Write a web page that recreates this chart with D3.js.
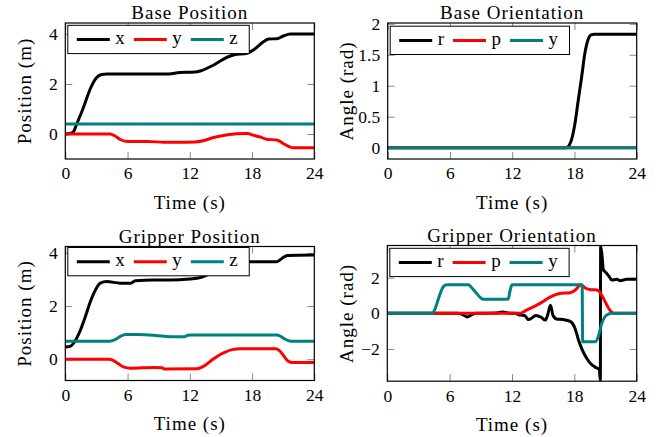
<!DOCTYPE html>
<html><head><meta charset="utf-8">
<script src="https://cdn.jsdelivr.net/npm/d3@7"></script>
<style>
html,body{margin:0;padding:0;background:#fff;}
svg{display:block;}
.lbl{font-family:"Liberation Serif",serif;font-size:19px;letter-spacing:1px;fill:#000;}
.tick text{font-family:"Liberation Serif",serif;font-size:17.5px;fill:#000;}
</style></head><body>
<svg id="chart" width="672" height="437"></svg>
<script>
// ---------- data ([time s, value]) ----------
const timeTicks = [0, 6, 12, 18, 24];
const posTicks = [0, 2, 4];
const baseOriTicks = [0, 0.5, 1, 1.5, 2];
const gripOriTicks = [-2, 0, 2];
const posNames = ["x", "y", "z"];
const oriNames = ["r", "p", "y"];

const basePosX = [[0,0],[0.5,0.02],[0.8,0.1],[1.1,0.4],[1.5,0.8],[1.8,1.12],[2.4,1.8],[3,2.25],[3.5,2.38],[4,2.4],[10,2.4],[11,2.46],[12.5,2.48],[13,2.52],[14.3,2.76],[15.6,3.07],[16.3,3.17],[17.5,3.23],[18.2,3.38],[19.1,3.69],[19.6,3.8],[20.4,3.81],[21,3.92],[21.7,4.0],[24,4.0]];
const basePosY = [[0,0],[4.3,0],[4.8,-0.08],[5.3,-0.22],[5.8,-0.29],[6.5,-0.3],[8,-0.3],[9.5,-0.33],[11,-0.33],[12.5,-0.32],[13.3,-0.27],[14.3,-0.14],[15.5,-0.04],[16.5,0.01],[17.5,0.02],[18.3,-0.07],[18.8,-0.12],[19.4,-0.21],[20.4,-0.24],[21,-0.38],[21.6,-0.51],[22,-0.55],[24,-0.55]];
const basePosZ = [[0,0.4],[24,0.4]];

const baseOriR = [[0,0],[17.2,0],[17.5,0.04],[17.8,0.18],[18.05,0.39],[18.37,0.77],[18.7,1.15],[19,1.52],[19.3,1.74],[19.6,1.82],[19.9,1.83],[24,1.83]];
const baseOriP = [[0,0],[24,0]];
const baseOriY = [[0,0],[24,0]];

const gripPosX = [[0,0.46],[0.5,0.49],[1,0.72],[1.45,1.09],[1.93,1.6],[2.41,2.16],[2.9,2.6],[3.37,2.86],[4,2.92],[5.3,2.86],[6.3,2.86],[6.75,2.95],[8.5,2.98],[10.1,2.98],[12,3.02],[13,3.07],[14,3.23],[15,3.45],[16,3.6],[17,3.66],[17.5,3.67],[20.4,3.67],[20.9,3.8],[21.4,3.9],[24,3.92]];
const gripPosY = [[0,0],[4.2,0],[4.6,-0.04],[5,-0.14],[5.6,-0.29],[6.3,-0.34],[8.5,-0.31],[9.3,-0.32],[9.6,-0.37],[12.7,-0.36],[13.3,-0.27],[14.3,0.02],[15.3,0.25],[16.2,0.37],[16.8,0.39],[20.3,0.39],[20.7,0.3],[21.04,0.13],[21.5,-0.08],[21.8,-0.12],[24,-0.12]];
const gripPosZ = [[0,0.68],[4.3,0.68],[4.8,0.74],[5.3,0.86],[5.8,0.93],[7,0.93],[8.5,0.9],[9.5,0.86],[10.1,0.85],[11.5,0.85],[11.8,0.9],[12.2,0.91],[20.4,0.91],[20.8,0.85],[21.2,0.75],[21.7,0.68],[24,0.68]];

const gripOriR = [[0,0],[6.8,0],[7.3,-0.08],[7.7,-0.2],[8.1,-0.08],[8.5,0],[10.5,0.02],[11.1,0.08],[11.6,0.02],[12.3,0],[12.8,-0.1],[13.2,-0.12],[13.6,-0.35],[14.3,-0.12],[14.8,-0.22],[15.2,-0.38],[15.45,-0.05],[15.7,0.45],[15.95,-0.12],[16.3,-0.32],[16.9,-0.35],[17.6,-0.45],[18.05,-0.82],[18.4,-1.5],[18.7,-1.97],[19.0,-2.34],[19.3,-2.62],[19.6,-2.85],[20.1,-3.05],[20.4,-3.15],[20.5,-3.75],[20.53,3.75],[20.64,3.37],[20.8,2.43],[20.96,2.34],[21.1,2.25],[21.3,2.1],[21.4,2.02],[21.6,1.87],[22.1,1.91],[22.4,1.83],[23.05,1.91],[24,1.91]];
const gripOriP = [[0,0],[12.8,0],[13.3,0.15],[14,0.35],[14.7,0.56],[15.7,0.93],[16.6,1.12],[17.6,1.16],[18.1,1.31],[18.6,1.59],[18.8,1.55],[19.1,1.4],[19.6,1.33],[20.2,1.31],[20.5,1.15],[20.8,0.84],[21.1,0.5],[21.4,0.19],[21.8,0],[24,0]];
const gripOriY = [[0,0],[4.3,0],[4.6,0.25],[4.93,0.84],[5.4,1.5],[5.74,1.6],[7.8,1.6],[8.1,1.45],[8.46,1.21],[8.94,0.9],[9.26,0.79],[11.62,0.79],[11.83,1.31],[12.0,1.6],[18.75,1.6],[18.8,-1.6],[20.0,-1.6],[20.3,-1.31],[20.64,-0.56],[21.1,-0.1],[21.6,0],[24,0]];

// ---------- styles / layout ----------
const colors = ["#000000", "#ff0000", "#008080"];
const panels = [
  {title:"Base Position", ylabel:"Position (m)", names:posNames, series:[basePosX,basePosY,basePosZ], yTicks:posTicks, yDomain:[-1.0,4.44], l:65.3, r:314.3, t:23, b:159, legOff:2.3},
  {title:"Base Orientation", ylabel:"Angle (rad)", names:oriNames, series:[baseOriR,baseOriP,baseOriY], yTicks:baseOriTicks, yDomain:[-0.183,2.013], l:387.7, r:636.7, t:23, b:159, legOff:3.2},
  {title:"Gripper Position", ylabel:"Position (m)", names:posNames, series:[gripPosX,gripPosY,gripPosZ], yTicks:posTicks, yDomain:[-0.8,4.24], l:65.3, r:314.3, t:246.5, b:380.5, legOff:1},
  {title:"Gripper Orientation", ylabel:"Angle (rad)", names:oriNames, series:[gripOriR,gripOriP,gripOriY], yTicks:gripOriTicks, yDomain:[-3.81,3.81], l:387.3, r:636.7, t:245.5, b:381.2, legOff:2.8}
];

const svg = d3.select("#chart");
const fmt = d => String(d).replace("-", "\u2212");

panels.forEach((p, i) => {
  const x = d3.scaleLinear().domain([0, 24]).range([p.l, p.r]);
  const y = d3.scaleLinear().domain(p.yDomain).range([p.b, p.t]);
  const g = svg.append("g");

  const styleAxis = sel => {
    sel.select(".domain").remove();
    sel.selectAll(".tick line").attr("stroke", "#8a8a8a").attr("stroke-width", 1);
  };
  g.append("g").attr("transform", `translate(0,${p.b})`)
    .call(d3.axisBottom(x).tickValues(timeTicks).tickSize(-7).tickPadding(8).tickFormat(fmt)).call(styleAxis);
  g.append("g").attr("transform", `translate(0,${p.t})`)
    .call(d3.axisTop(x).tickValues(timeTicks).tickSize(-7).tickFormat(() => "")).call(styleAxis);
  g.append("g").attr("transform", `translate(${p.l},0)`)
    .call(d3.axisLeft(y).tickValues(p.yTicks).tickSize(-7).tickPadding(7.5).tickFormat(fmt)).call(styleAxis);
  g.append("g").attr("transform", `translate(${p.r},0)`)
    .call(d3.axisRight(y).tickValues(p.yTicks).tickSize(-7).tickFormat(() => "")).call(styleAxis);
  g.selectAll(".tick text").attr("font-family", null).attr("font-size", null);

  const cid = "clip" + i;
  svg.append("clipPath").attr("id", cid).append("rect")
    .attr("x", p.l).attr("y", p.t).attr("width", p.r - p.l).attr("height", p.b - p.t);

  const line = d3.line().x(d => x(d[0])).y(d => y(d[1])).curve(d3.curveMonotoneX);
  const lg = g.append("g").attr("clip-path", `url(#${cid})`);
  p.series.forEach((s, k) => {
    lg.append("path").attr("d", line(s)).attr("fill", "none")
      .attr("stroke", colors[k]).attr("stroke-width", 3)
      .attr("stroke-linejoin", "round");
  });

  g.append("rect").attr("x", p.l).attr("y", p.t).attr("width", p.r - p.l).attr("height", p.b - p.t)
    .attr("fill", "none").attr("stroke", "#000").attr("stroke-width", 1.2);

  // title and labels
  g.append("text").attr("class", "lbl").attr("x", (p.l + p.r) / 2).attr("y", p.t - 4)
    .attr("text-anchor", "middle").text(p.title);
  g.append("text").attr("class", "lbl").attr("x", (p.l + p.r) / 2).attr("y", p.b + 49.5)
    .attr("text-anchor", "middle").text("Time (s)");
  g.append("text").attr("class", "lbl")
    .attr("transform", `translate(${p.l - 34.5},${(p.t + p.b) / 2}) rotate(-90)`)
    .attr("text-anchor", "middle").text(p.ylabel);

  // legend
  const bx = p.l + 2.5, by = p.t + p.legOff;
  const leg = g.append("g");
  const box = leg.append("rect").attr("x", bx).attr("y", by).attr("height", 28.3)
    .attr("fill", "#fff").attr("stroke", "#000").attr("stroke-width", 1);
  let cx = bx + 9;
  p.names.forEach((n, k) => {
    leg.append("line").attr("x1", cx).attr("x2", cx + 33).attr("y1", by + 14.3).attr("y2", by + 14.3)
      .attr("stroke", colors[k]).attr("stroke-width", 3);
    const t = leg.append("text").attr("class", "lbl").attr("x", cx + 38.5).attr("y", by + 18.5).text(n);
    const w = t.node().getComputedTextLength();
    cx = cx + 38.5 + w + (k < p.names.length - 1 ? 8 : 10.5);
  });
  box.attr("width", cx - bx);
});
</script>
</body></html>
